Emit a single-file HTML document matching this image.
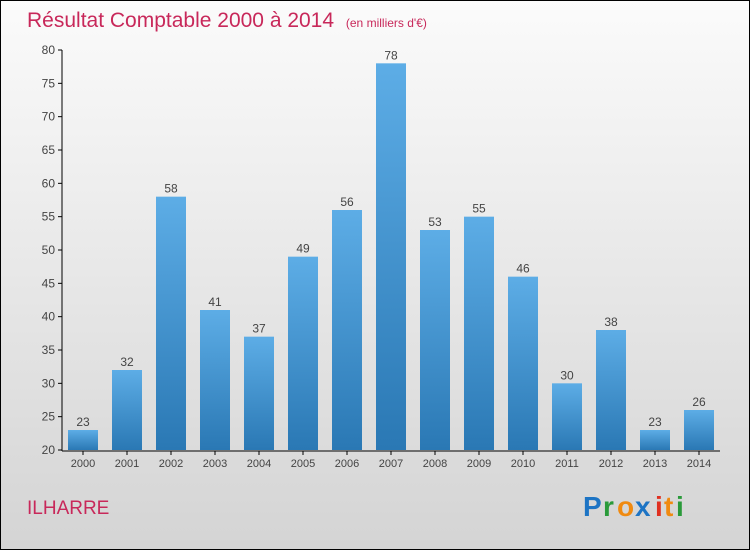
<!DOCTYPE html>
<html><head><meta charset="utf-8"><style>
html,body{margin:0;padding:0;}
body{width:750px;height:550px;overflow:hidden;font-family:"Liberation Sans",sans-serif;}
</style></head><body>
<svg id="chart" width="750" height="550" xmlns="http://www.w3.org/2000/svg">
<defs>
<linearGradient id="bg" x1="0" y1="0" x2="0" y2="1"><stop offset="0" stop-color="#fbfbfb"/><stop offset="1" stop-color="#d4d4d4"/></linearGradient>
<linearGradient id="bar" x1="0" y1="0" x2="0" y2="1"><stop offset="0" stop-color="#5dade6"/><stop offset="1" stop-color="#2a78b4"/></linearGradient>
</defs>
<rect x="0.5" y="0.5" width="749" height="549" fill="url(#bg)" stroke="#000"/>
<text x="27" y="27" font-size="21" fill="#c8285a">Résultat Comptable 2000 à 2014 <tspan font-size="12" dx="6">(en milliers d'€)</tspan></text>
<text x="27" y="514" font-size="19" fill="#c8285a">ILHARRE</text>
<g font-size="28" font-weight="bold" font-family="'Liberation Sans',sans-serif">
<text x="583" y="516" fill="#1d74c4">P</text><text x="603" y="516" fill="#2a9a3a">r</text><text x="617" y="516" fill="#f08a10">o</text><text x="635" y="516" fill="#1d74c4">x</text><text x="655" y="516" fill="#e03020">i</text><text x="664" y="516" fill="#f08a10">t</text><text x="676" y="516" fill="#2a9a3a">i</text>
</g>
<g id="plot"></g>
</svg>
<script>
const years=["2000","2001","2002","2003","2004","2005","2006","2007","2008","2009","2010","2011","2012","2013","2014"];
const values=[23,32,58,41,37,49,56,78,53,55,46,30,38,23,26];
const yTicks=[20,25,30,35,40,45,50,55,60,65,70,75,80];
const NS="http://www.w3.org/2000/svg";
const g=document.getElementById('plot');
const y=v=>450-(v-20)*(400/60);
const x=i=>83+i*44;
function mk(t,a){const e=document.createElementNS(NS,t);for(const k in a)e.setAttribute(k,a[k]);g.appendChild(e);return e;}
let ax=mk('line',{x1:62,y1:50,x2:62,y2:451,stroke:'#000'});


let bx=mk('line',{x1:62,y1:451,x2:720,y2:451,stroke:'#000'});


yTicks.forEach(v=>{
 let t=mk('line',{x1:58,y1:y(v),x2:62,y2:y(v),stroke:'#000'});
 
 
 let l=mk('text',{x:55,y:y(v)+4,'font-size':12,fill:'#444','text-anchor':'end'});
 l.textContent=v;
 
 
});
years.forEach((yr,i)=>{
 const v=values[i];
 let b=mk('rect',{x:x(i)-15,y:y(v),width:30,height:450-y(v),fill:'url(#bar)'});
 
 
 let vl=mk('text',{x:x(i),y:y(v)-4,'font-size':12,fill:'#444','text-anchor':'middle'});
 vl.textContent=v;
 
 
 let xt=mk('line',{x1:x(i),y1:451,x2:x(i),y2:455,stroke:'#000'});
 
 
 let xl=mk('text',{x:x(i),y:467,'font-size':11,fill:'#444','text-anchor':'middle'});
 xl.textContent=yr;
 
 
});
</script>
</body></html>
